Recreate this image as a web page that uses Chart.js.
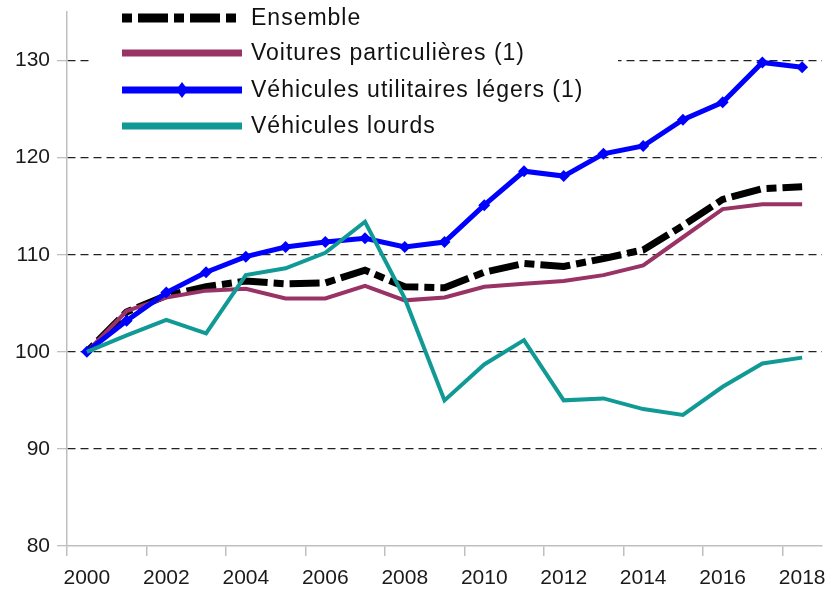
<!DOCTYPE html>
<html lang="fr">
<head>
<meta charset="UTF-8">
<title>Indices de circulation</title>
<script src="https://cdn.jsdelivr.net/npm/chart.js"></script>
<style>
    body { margin: 0; background: #fff; }
    #wrap { width: 828px; height: 590px; }
</style>
</head>
<body>
<div id="wrap"><canvas id="chart" width="828" height="590"></canvas></div>
<script>
    // Données (base 100 en 2000)
    const years = ['2000','2001','2002','2003','2004','2005','2006','2007','2008','2009',
                   '2010','2011','2012','2013','2014','2015','2016','2017','2018'];
    const ensemble = [100, 104.1, 105.8, 106.7, 107.3, 107.0, 107.1, 108.4, 106.7, 106.6,
                      108.2, 109.1, 108.8, 109.6, 110.5, 113.0, 115.7, 116.8, 117.0];
    const voitures = [100, 104.2, 105.6, 106.3, 106.5, 105.5, 105.5, 106.8, 105.3, 105.6,
                      106.7, 107.0, 107.3, 107.9, 108.9, 111.8, 114.7, 115.2, 115.2];
    const utilitaires = [100, 103.2, 106.1, 108.2, 109.8, 110.8, 111.3, 111.7, 110.8, 111.3,
                         115.1, 118.6, 118.1, 120.4, 121.2, 123.9, 125.7, 129.8, 129.3];
    const lourds = [100, 101.7, 103.3, 101.9, 107.9, 108.6, 110.2, 113.4, 105.5, 95.0,
                    98.7, 101.2, 95.0, 95.2, 94.1, 93.5, 96.4, 98.8, 99.4];

    const labelFont = { family: 'Liberation Sans, Arial, sans-serif', size: 21 };
    const axisGrey = '#bfbfbf';

    // légende dessinée dans la zone du graphique, sur fond blanc
    const innerLegend = {
        id: 'innerLegend',
        afterDraw(chart) {
            const ctx = chart.ctx;
            const rows = [18, 53, 90, 126];
            ctx.save();
            ctx.fillStyle = '#fff';
            ctx.fillRect(90, 0, 528, 143);
            chart.data.datasets.forEach((ds, i) => {
                const y = rows[i];
                ctx.save();
                ctx.strokeStyle = ds.borderColor;
                ctx.lineWidth = ds.legendWidth;
                ctx.setLineDash(ds.borderDash || []);
                ctx.lineCap = 'butt';
                ctx.beginPath();
                ctx.moveTo(122, y);
                ctx.lineTo(242, y);
                ctx.stroke();
                ctx.restore();
                if (ds.pointRadius > 0) {
                    ctx.fillStyle = ds.borderColor;
                    ctx.beginPath();
                    ctx.moveTo(182, y - 8);
                    ctx.lineTo(188, y);
                    ctx.lineTo(182, y + 8);
                    ctx.lineTo(176, y);
                    ctx.closePath();
                    ctx.fill();
                }
                ctx.fillStyle = '#111';
                ctx.font = '23px "Liberation Sans", Arial, sans-serif';
                ctx.letterSpacing = '1px';
                ctx.textBaseline = 'middle';
                ctx.fillText(ds.label, 251, y + 1);
            });
            ctx.restore();
        }
    };

    new Chart(document.getElementById('chart'), {
        type: 'line',
        data: {
            labels: years,
            datasets: [
                { label: 'Ensemble', data: ensemble, borderColor: '#000', borderWidth: 7,
                  borderDash: [10, 6, 30, 6], legendWidth: 9, pointRadius: 0, order: 4 },
                { label: 'Voitures particulières (1)', data: voitures, borderColor: '#993366',
                  borderWidth: 4, legendWidth: 7, pointRadius: 0, order: 3 },
                { label: 'Véhicules utilitaires légers (1)', data: utilitaires, borderColor: '#0000ff',
                  backgroundColor: '#0000ff', borderWidth: 5, legendWidth: 7, pointStyle: 'rectRot',
                  pointRadius: 6, pointBorderWidth: 0, order: 2 },
                { label: 'Véhicules lourds', data: lourds, borderColor: '#119a95',
                  borderWidth: 4, legendWidth: 7, pointRadius: 0, order: 1 }
            ]
        },
        options: {
            responsive: false,
            animation: false,
            layout: { padding: { top: 12, right: 6, left: 0, bottom: 0 } },
            plugins: { legend: { display: false }, tooltip: { enabled: false } },
            elements: { line: { tension: 0 } },
            scales: {
                x: {
                    offset: true,
                    grid: {
                        offset: true,
                        drawOnChartArea: false,
                        tickLength: 10,
                        color: c => (c.index % 2 === 0 ? axisGrey : 'rgba(0,0,0,0)'),
                        lineWidth: 1.5
                    },
                    border: { color: axisGrey, width: 1.5 },
                    ticks: {
                        autoSkip: false,
                        maxRotation: 0,
                        padding: 10,
                        color: '#1a1a1a',
                        font: labelFont,
                        callback: function (v, i) { return i % 2 === 0 ? this.getLabelForValue(v) : ''; }
                    },
                    afterFit: s => { s.height = 44; s.paddingLeft = 0; s.paddingRight = 0; }
                },
                y: {
                    min: 80,
                    max: 135,
                    grid: {
                        tickLength: 10,
                        color: c => (c.tick && c.tick.value === 80 ? 'rgba(0,0,0,0)' : '#222'),
                        tickColor: axisGrey,
                        lineWidth: 1.3
                    },
                    border: { color: axisGrey, width: 1.5, dash: [8, 5] },
                    ticks: {
                        stepSize: 10,
                        includeBounds: false,
                        padding: 7,
                        color: '#1a1a1a',
                        font: labelFont
                    },
                    afterFit: s => { s.width = 67; s.paddingTop = 0; s.paddingBottom = 0; }
                }
            }
        },
        plugins: [innerLegend]
    });
</script>
</body>
</html>
